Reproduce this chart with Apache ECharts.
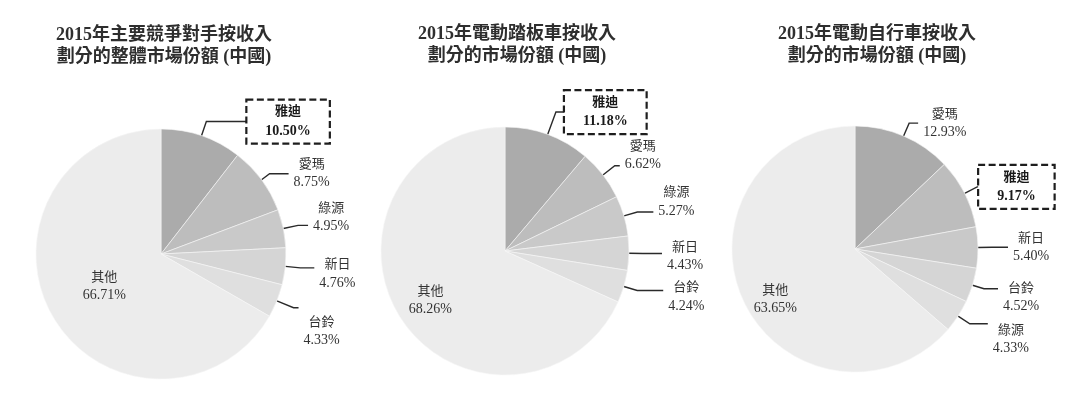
<!DOCTYPE html>
<html><head><meta charset="utf-8">
<script src="https://cdn.jsdelivr.net/npm/echarts@6/dist/echarts.min.js"></script>
<style>html,body{margin:0;padding:0;background:#fff}#c{width:1080px;height:404px}</style>
</head><body><div id="c"></div>
<script>
// ---- data ----
const titleLines1 = ['2015年主要競爭對手按收入', '劃分的整體市場份額 (中國)'];
const titleLines2 = ['2015年電動踏板車按收入', '劃分的市場份額 (中國)'];
const titleLines3 = ['2015年電動自行車按收入', '劃分的市場份額 (中國)'];

const names1 = ['雅迪', '愛瑪', '綠源', '新日', '台鈴', '其他'];
const values1 = [10.50, 8.75, 4.95, 4.76, 4.33, 66.71];

const names2 = ['雅迪', '愛瑪', '綠源', '新日', '台鈴', '其他'];
const values2 = [11.18, 6.62, 5.27, 4.43, 4.24, 68.26];

const names3 = ['愛瑪', '雅迪', '新日', '台鈴', '綠源', '其他'];
const values3 = [12.93, 9.17, 5.40, 4.52, 4.33, 63.65];

const highlightName = '雅迪';

// ---- styles / layout ----
const FONT = "'Liberation Serif', 'Noto Sans CJK TC', serif";
const sliceColors = ['#ababab', '#bdbdbd', '#c9c9c9', '#d5d5d5', '#dfdfdf', '#ececec'];
const textColor = '#333333';

// per-label leader tuning
const layout1 = [
  {len: 15, len2: 40, box: true},
  {len: 10, len2: 19, pad: [0, 0, 0, 0]},
  {len: 15, len2: 10, pad: [0, 0, 16, 0]},
  {len: 15, len2: 14, pad: [12, 0, 0, 0]},
  {len: 18, len2: 5, pad: [47, 0, 0, 0]},
  {inside: true, pad: [0, 0, 0, 0]}
];
const layout2 = [
  {len: 24, len2: 8, box: true},
  {len: 15, len2: 5, pad: [0, 0, 20, 0]},
  {len: 14, len2: 16, pad: [0, 0, 20, 0]},
  {len: 14, len2: 19, pad: [6, 0, 0, 0]},
  {len: 14, len2: 26, pad: [13, 0, 0, 0]},
  {inside: true, pad: [29, 40, 0, 0]}
];
const layout3 = [
  {len: 14, len2: 9, pad: [0, 0, 0, 0]},
  {len: 14, len2: 1, box: true},
  {len: 14, len2: 16, pad: [0, 0, 0, 0]},
  {len: 12, len2: 14, pad: [18, 0, 0, 0]},
  {len: 14, len2: 18, pad: [31, 0, 0, 0]},
  {inside: true, pad: [47, 42, 0, 0]}
];

const rich = {
  n: {fontSize: 13, lineHeight: 18, align: 'center', fontFamily: FONT, color: textColor},
  v: {fontSize: 14, lineHeight: 18, align: 'center', fontFamily: FONT, color: textColor},
  nb: {fontSize: 13, lineHeight: 19, align: 'center', fontFamily: FONT, color: '#1a1a1a', fontWeight: 'bold'},
  vb: {fontSize: 14, lineHeight: 19, align: 'center', fontFamily: FONT, color: '#1a1a1a', fontWeight: 'bold'}
};

function fmt(p) {
  const v = Number(p.value).toFixed(2) + '%';
  return p.name === highlightName ? '{nb|' + p.name + '}\n{vb|' + v + '}' : '{n|' + p.name + '}\n{v|' + v + '}';
}

function buildSeries(names, values, center, radius, lay) {
  return {
    type: 'pie',
    center: center,
    radius: radius,
    startAngle: 90,
    clockwise: true,
    avoidLabelOverlap: false,
    silent: true,
    animation: false,
    emphasis: {disabled: true},
    itemStyle: {borderColor: '#f6f6f6', borderWidth: 0.6},
    label: {show: true, position: 'outside', formatter: fmt, rich: rich, fontFamily: FONT, color: textColor},
    labelLine: {show: true, lineStyle: {color: '#2a2a2a', width: 1.4}},
    data: names.map(function (n, i) {
      const L = lay[i];
      const item = {name: n, value: values[i], itemStyle: {color: sliceColors[i]}};
      if (L.inside) {
        item.label = {position: 'inside', padding: L.pad};
        item.labelLine = {show: false};
      } else if (L.box) {
        item.labelLine = {length: L.len, length2: L.len2};
        item.label = {
          distanceToLabelLine: 0,
          padding: [3, 19],
          borderType: [7, 3.5],
          borderColor: '#1e1e1e',
          borderWidth: 2.2
        };
      } else {
        item.labelLine = {length: L.len, length2: L.len2};
        item.label = {padding: L.pad};
      }
      return item;
    })
  };
}

function buildTitle(lines, cx, top, weight) {
  return {
    text: lines.join('\n'),
    left: cx,
    top: top,
    textAlign: 'center',
    padding: 0,
    textStyle: {fontFamily: FONT, fontSize: 18, fontWeight: weight, lineHeight: 22, color: '#2e2e2e'}
  };
}

const chart = echarts.init(document.getElementById('c'), null, {renderer: 'canvas'});
chart.setOption({
  backgroundColor: '#ffffff',
  animation: false,
  title: [
    buildTitle(titleLines1, 164, 24, 'bold'),
    buildTitle(titleLines2, 517, 23, 600),
    buildTitle(titleLines3, 877, 23, 600)
  ],
  series: [
    buildSeries(names1, values1, [161, 254], 125, layout1),
    buildSeries(names2, values2, [505, 251], 124, layout2),
    buildSeries(names3, values3, [855, 249], 123, layout3)
  ]
});
</script>
</body></html>
